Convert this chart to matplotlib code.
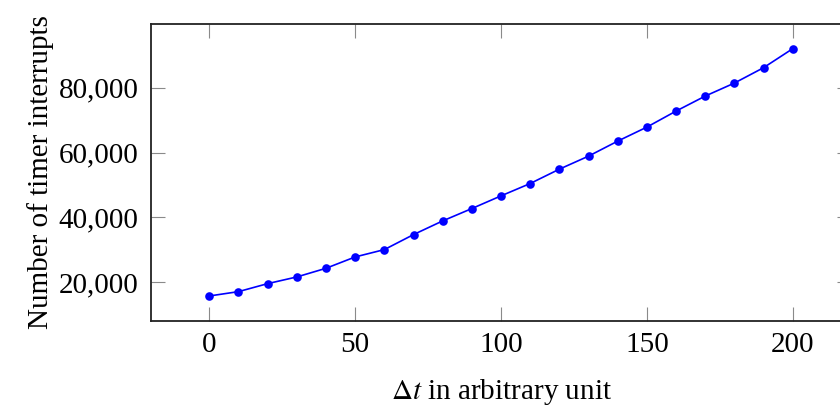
import numpy as np
import matplotlib
matplotlib.use('Agg')
import matplotlib.pyplot as plt
from matplotlib.ticker import FuncFormatter

plt.rcParams['font.family'] = ['Liberation Serif', 'DejaVu Serif']
plt.rcParams['mathtext.fontset'] = 'stix'

# measurements
delta_t = [0, 10, 20, 30, 40, 50, 60, 70, 80, 90, 100,
           110, 120, 130, 140, 150, 160, 170, 180, 190, 200]
interrupts = [15780, 17120, 19590, 21650, 24320, 27820, 30080, 34710, 38930, 42740, 46650,
              50460, 54880, 58900, 63530, 67850, 72790, 77420, 81430, 86170, 92030]

x_ticks = [0, 50, 100, 150, 200]
y_ticks = [20000, 40000, 60000, 80000]

fig = plt.figure(figsize=(8.40, 4.09), dpi=100)
ax = fig.add_axes([151/840, 1 - 320.7/409, 700/840, (320.7 - 24)/409])

ax.plot(delta_t, interrupts, color=(0, 0, 1), lw=1.2, marker='o', ms=6.2,
        markeredgewidth=0)

# pgfplots-like enlarged limits (10 %)
xr = max(delta_t) - min(delta_t)
yr = max(interrupts) - min(interrupts)
ax.set_xlim(min(delta_t) - 0.1*xr, max(delta_t) + 0.1*xr)
ax.set_ylim(min(interrupts) - 0.1*yr, max(interrupts) + 0.1*yr)

ax.set_xticks(x_ticks)
ax.set_yticks(y_ticks)
ax.yaxis.set_major_formatter(FuncFormatter(lambda v, p: f'{int(v):,}'))
ax.tick_params(direction='in', length=10, width=0.8, color='#8a8a8a',
               top=True, right=True, labelsize=21)
ax.tick_params(axis='x', pad=8)
ax.tick_params(axis='y', pad=9)
for s in ax.spines.values():
    s.set_linewidth(1.3)
    s.set_color('#222222')

ax.set_xlabel(r'$\Delta t$ in arbitrary unit', fontsize=21, labelpad=14)
ax.set_ylabel('Number of timer interrupts', fontsize=21, labelpad=3)

fig.savefig('out.png', dpi=100)
